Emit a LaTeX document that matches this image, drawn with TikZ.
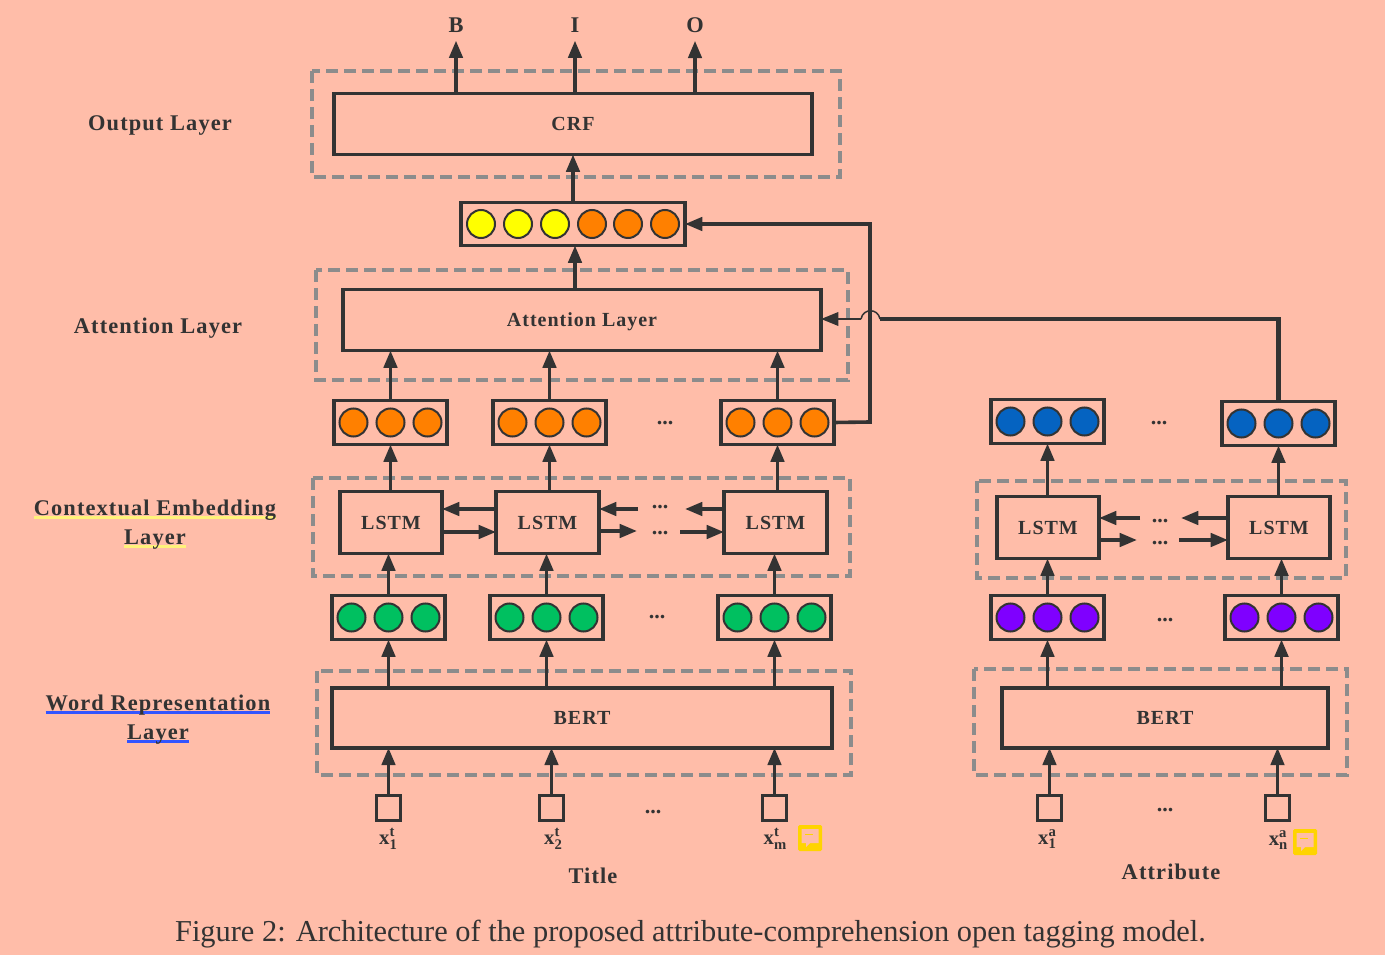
\documentclass[tikz,border=0pt]{standalone}
\usepackage{fontspec}
\setmainfont{Liberation Serif}
\newfontfamily\lblfont[LetterSpace=5]{Liberation Serif}
\usepackage{tikz}
\usetikzlibrary{arrows.meta,calc,positioning}

\definecolor{bgpink}{HTML}{FFBDA9}
\definecolor{ink}{HTML}{333333}
\definecolor{dashgray}{HTML}{8C8C8C}
\definecolor{dotorange}{HTML}{FF8000}
\definecolor{dotyellow}{HTML}{FFFF00}
\definecolor{dotgreen}{HTML}{00C060}
\definecolor{dotblue}{HTML}{0563C1}
\definecolor{dotpurple}{HTML}{7F00FF}
\definecolor{notegold}{HTML}{FFD400}
\definecolor{lineyellow}{HTML}{FFF27A}
\definecolor{lineblue}{HTML}{3355FF}

\newdimen\pxu
\pxu=0.75pt

% text with a coloured line under it
\newcommand{\markline}[2]{\setbox0\hbox{#2}\rlap{\color{#1}\rule[-2.1pt]{\wd0}{1.7pt}}\box0}
% input label
\newcommand{\inlabel}[2]{x\rlap{\raisebox{6pt}{\fontsize{11}{12}\selectfont #1}}\raisebox{-3.5pt}{\fontsize{11}{12}\selectfont #2}}

\tikzset{
  boxnode/.style={draw=ink,line width=3.6\pxu,outer sep=0pt,minimum width=#1,inner sep=0pt,text=ink,
    font=\lblfont\bfseries\fontsize{15}{18}\selectfont},
  vecbox/.style={draw=ink,line width=3.6\pxu,outer sep=0pt,minimum width=113\pxu,minimum height=44\pxu,inner sep=0pt},
  dotnode/.style={circle,draw=ink,line width=2\pxu,fill=#1,minimum size=28\pxu,inner sep=0pt},
  zone/.style={draw=dashgray,line width=3.2\pxu,dash pattern=on 12\pxu off 6\pxu},
  arrowline/.style={draw=ink,line width=3.6\pxu,-{Triangle[length=13pt,width=10pt]}},
  lbl/.style={font=\lblfont\bfseries\fontsize{16.8}{21.75}\selectfont,text=ink,inner sep=0pt,align=center},
  more/.style={font=\bfseries\fontsize{16.5}{20}\selectfont,text=ink,inner sep=0pt,yshift=-1.5pt},
  inputbox/.style={draw=ink,line width=3.6\pxu,outer sep=0pt,minimum width=24\pxu,minimum height=25\pxu,inner sep=0pt},
  xlabel/.style={font=\bfseries\fontsize{15.5}{16}\selectfont,text=ink,inner sep=0pt},
  notemark/.style={fill=notegold,rounded corners=1.5\pxu,minimum width=24\pxu,minimum height=26\pxu,inner sep=0pt}
}

% vector of three dots: name, x, y, colour
\newcommand{\threevec}[4]{
  \node[vecbox] (#1) at (#2,#3) {};
  \foreach \dx in {-37,0,37}
    \node[dotnode=#4] at ($(#1)+(\dx,0)$) {};
}
% note mark: name, x, y
\newcommand{\notemark}[3]{
  \node[notemark] (#1) at (#2,#3) {};
  \fill[bgpink] ($(#1)+(-8.5,-9)$) -- ($(#1)+(8.5,-9)$) -- ($(#1)+(8.5,5)$) -- ($(#1)+(0,5)$) -- ($(#1)+(-4,9)$) -- ($(#1)+(-4,5)$) -- ($(#1)+(-8.5,5)$) -- cycle;
  \fill[notegold] ($(#1)+(-5,-4.5)$) rectangle ($(#1)+(3,-3)$);
}

\begin{document}
\begin{tikzpicture}[x=0.75pt,y=-0.75pt]
  \fill[bgpink] (0,0) rectangle (1385,955);
  \useasboundingbox (0,0) rectangle (1385,955);

  % dashed layer frames
  \draw[zone] (312,71) rectangle (840,177);
  \draw[zone] (316,270) rectangle (848,380);
  \draw[zone] (313,478) rectangle (850,576);
  \draw[zone] (977,481) rectangle (1346,578);
  \draw[zone] (317,671) rectangle (851,775);
  \draw[zone] (974,669) rectangle (1347,775);

  % layer names
  \node[lbl] (nameout) at (160,126) {Output Layer};
  \node[lbl] (nameatt) at (158,328) {Attention Layer};
  \node[lbl] (namectx) at (155,525) {\markline{lineyellow}{Contextual Embedding}\\\markline{lineyellow}{Layer}};
  \node[lbl] (nameword) at (158,720) {\markline{lineblue}{Word Representation}\\\markline{lineblue}{Layer}};

  % output
  \node[lbl] (tagb) at (456,25) {B};
  \node[lbl] (tagi) at (575,25) {I};
  \node[lbl] (tago) at (695,25) {O};
  \node[boxnode=478\pxu,minimum height=61\pxu] (crf) at (573,124) {CRF};

  \node[vecbox,minimum width=224\pxu,minimum height=43\pxu] (topvec) at (573,224) {};
  \foreach \xx/\cc in {481/dotyellow,518/dotyellow,555/dotyellow,592/dotorange,628/dotorange,665/dotorange}
    \node[dotnode=\cc] at (\xx,224) {};

  \node[boxnode=478\pxu,minimum height=61\pxu,text depth=0pt] (att) at (582,320) {Attention Layer};

  % title side
  \threevec{ovec1}{390.5}{422.5}{dotorange}
  \threevec{ovec2}{549.5}{422.5}{dotorange}
  \threevec{ovec3}{777.5}{422.5}{dotorange}
  \node[boxnode=102\pxu,minimum height=62\pxu] (lstm1) at (391,522.5) {LSTM};
  \node[boxnode=103\pxu,minimum height=62\pxu] (lstm2) at (547.5,522.5) {LSTM};
  \node[boxnode=103\pxu,minimum height=62\pxu] (lstm3) at (775.5,522.5) {LSTM};
  \threevec{gvec1}{388.5}{617.5}{dotgreen}
  \threevec{gvec2}{546.5}{617.5}{dotgreen}
  \threevec{gvec3}{774.5}{617.5}{dotgreen}
  \node[boxnode=500\pxu,minimum height=59.5\pxu] (bert1) at (582,718) {BERT};
  \node[inputbox] (in1) at (388.5,808) {};
  \node[inputbox] (in2) at (551.5,808) {};
  \node[inputbox] (in3) at (774.5,808) {};
  \node[xlabel] (xt1) at (388,839) {\inlabel{t}{1}};
  \node[xlabel] (xt2) at (553,839) {\inlabel{t}{2}};
  \node[xlabel] (xt3) at (775,839) {\inlabel{t}{m}};
  \notemark{note1}{810}{838}
  \node[lbl] (title) at (593,876) {Title};

  % attribute side
  \threevec{bvec1}{1047.5}{421.5}{dotblue}
  \threevec{bvec2}{1278.5}{423.5}{dotblue}
  \node[boxnode=102\pxu,minimum height=62\pxu] (lstm4) at (1048,527.5) {LSTM};
  \node[boxnode=102\pxu,minimum height=62\pxu] (lstm5) at (1279,527.5) {LSTM};
  \threevec{pvec1}{1047.5}{617.5}{dotpurple}
  \threevec{pvec2}{1281.5}{617.5}{dotpurple}
  \node[boxnode=326\pxu,minimum height=59.5\pxu] (bert2) at (1165,718) {BERT};
  \node[inputbox] (in4) at (1049.5,808) {};
  \node[inputbox] (in5) at (1277.5,808) {};
  \node[xlabel] (xa1) at (1047,839) {\inlabel{a}{1}};
  \node[xlabel] (xa2) at (1278,840) {\inlabel{a}{n}};
  \notemark{note2}{1305}{842}
  \node[lbl] (attr) at (1171,872) {Attribute};

  % more dots
  \node[more] (m1) at (665,421) {...};
  \node[more] (m2) at (1159,421) {...};
  \node[more] (m3) at (660,505) {...};
  \node[more] (m4) at (660,531) {...};
  \node[more] (m5) at (1160,519) {...};
  \node[more] (m6) at (1160,541) {...};
  \node[more] (m7) at (657,615) {...};
  \node[more] (m8) at (1165,618) {...};
  \node[more] (m9) at (653,810) {...};
  \node[more] (m10) at (1165,808) {...};

  % ends next to the dots
  \coordinate (c1) at (638,509);
  \coordinate (c2) at (637,531);
  \coordinate (c3) at (685,509);
  \coordinate (c4) at (680,532);
  \coordinate (c5) at (1140,518);
  \coordinate (c6) at (1137,540);
  \coordinate (c7) at (1181,518);
  \coordinate (c8) at (1179,540);
  \coordinate (hopl) at (861,319);
  \coordinate (hopr) at (880,319);

  % upward arrows
  \foreach \tg in {tagb,tagi,tago}
    \draw[arrowline,shorten >=8\pxu] (crf.north -| \tg) -- (\tg.south);
  \draw[arrowline] (topvec.north) -- (crf.south -| topvec.north);
  \draw[arrowline] (att.north -| topvec.north) ++(2,0) -- ($(topvec.south)+(2,0)$);
  \foreach \i in {1,2,3} {
    \draw[arrowline] (ovec\i.north) -- (att.south -| ovec\i.north);
    \draw[arrowline] (lstm\i.north -| ovec\i.south) -- (ovec\i.south);
    \draw[arrowline] (gvec\i.north) -- (lstm\i.south -| gvec\i.north);
    \draw[arrowline] (bert1.north -| gvec\i.south) -- (gvec\i.south);
    \draw[arrowline] (in\i.north) -- (bert1.south -| in\i.north);
  }
  \foreach \i/\j in {1/4,2/5} {
    \draw[arrowline] (lstm\j.north -| bvec\i.south) -- (bvec\i.south);
    \draw[arrowline] (pvec\i.north) -- (lstm\j.south -| pvec\i.north);
    \draw[arrowline] (bert2.north -| pvec\i.south) -- (pvec\i.south);
  }
  \draw[arrowline] (in4.north) -- (bert2.south -| in4.north);
  \draw[arrowline] (in5.north) -- (bert2.south -| in5.north);

  % arrows between the LSTMs
  \draw[arrowline] (lstm2.west |- 0,509) -- (lstm1.east |- 0,509);
  \draw[arrowline] (lstm1.east |- 0,532) -- (lstm2.west |- 0,532);
  \draw[arrowline] (c1) -- (lstm2.east |- c1);
  \draw[arrowline] (lstm2.east |- c2) -- (c2);
  \draw[arrowline] (lstm3.west |- c3) -- (c3);
  \draw[arrowline] (c4) -- (lstm3.west |- c4);
  \draw[arrowline] (c5) -- (lstm4.east |- c5);
  \draw[arrowline] (lstm4.east |- c6) -- (c6);
  \draw[arrowline] (lstm5.west |- c7) -- (c7);
  \draw[arrowline] (c8) -- (lstm5.west |- c8);

  % long connectors
  \draw[arrowline] (ovec3.east) -- (870,422) -- (870,224) -- (topvec.east);
  \draw[draw=ink,line width=4.2\pxu] (bvec2.north) -- (bvec2.north |- hopr) -- (hopr);
  \draw[draw=ink,line width=1.5\pxu] (hopl) .. controls (863,308) and (878,308) .. (hopr);
  \draw[arrowline,line width=2.5\pxu] (hopl) -- (att.east |- hopl);

  \node[font=\fontsize{22.8}{26}\selectfont,text=ink,inner sep=0pt] (caption) at (690.5,934) {Figure 2: Architecture of the proposed attribute-comprehension open tagging model.};
\end{tikzpicture}
\end{document}
